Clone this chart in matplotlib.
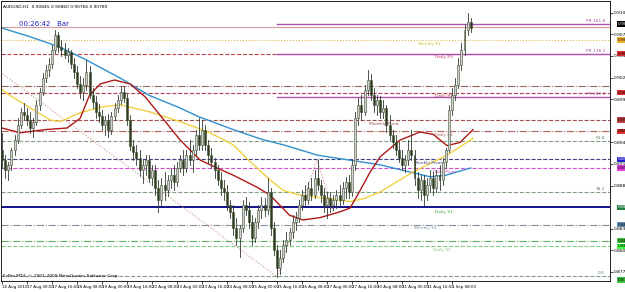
import matplotlib
matplotlib.use("Agg")
from matplotlib import pyplot as plt
from matplotlib.patches import Rectangle

# AUDUSD H1 (drawn as 2-hour candles)
opens = [0.8931, 0.8919, 0.8907, 0.8913, 0.8931, 0.8944, 0.8963, 0.8979, 0.8975, 0.8969,
         0.8959, 0.8967, 0.8988, 0.9004, 0.9021, 0.9031, 0.9039, 0.9057, 0.9075, 0.9060,
         0.9057, 0.9050, 0.9054, 0.9039, 0.9029, 0.9014, 0.9004, 0.9013, 0.9029, 0.9000,
         0.8991, 0.8979, 0.8974, 0.8963, 0.8969, 0.8957, 0.8974, 0.8984, 0.8994, 0.9004,
         0.8997, 0.8969, 0.8937, 0.8929, 0.8921, 0.8907, 0.8913, 0.8919, 0.8897, 0.8907,
         0.8884, 0.8869, 0.8888, 0.8881, 0.8894, 0.8900, 0.8891, 0.8909, 0.8919, 0.8909,
         0.8925, 0.8919, 0.8931, 0.8950, 0.8938, 0.8957, 0.8938, 0.8925, 0.8917, 0.8907,
         0.8894, 0.8884, 0.8879, 0.8863, 0.8854, 0.8834, 0.8821, 0.8834, 0.8863, 0.8857,
         0.8841, 0.8821, 0.8841, 0.8857, 0.8863, 0.8857, 0.8879, 0.8834, 0.8807, 0.8784,
         0.8797, 0.8813, 0.8819, 0.8829, 0.8841, 0.8847, 0.8863, 0.8875, 0.8869, 0.8884,
         0.8875, 0.8897, 0.8888, 0.8875, 0.8863, 0.8871, 0.8863, 0.8869, 0.8875, 0.8869,
         0.8884, 0.8891, 0.8879, 0.8913, 0.8971, 0.8988, 0.8979, 0.9007, 0.9019, 0.9000,
         0.8988, 0.8994, 0.8979, 0.8984, 0.8963, 0.8950, 0.8941, 0.8931, 0.8921, 0.8913,
         0.8919, 0.8931, 0.8925, 0.8897, 0.8881, 0.8894, 0.8875, 0.8888, 0.8897, 0.8884,
         0.8900, 0.8894, 0.8917, 0.8931, 0.8981, 0.9000, 0.9013, 0.9038, 0.9057, 0.9081,
         0.9091]
highs = [0.8953, 0.8925, 0.8917, 0.8934, 0.8950, 0.8971, 0.8984, 0.8990, 0.8984, 0.8979,
         0.8971, 0.8994, 0.9009, 0.9028, 0.9038, 0.9047, 0.9063, 0.9081, 0.9079, 0.9069,
         0.9065, 0.9059, 0.9057, 0.9047, 0.9037, 0.9024, 0.9021, 0.9044, 0.9037, 0.9009,
         0.8999, 0.8989, 0.8981, 0.8974, 0.8977, 0.8979, 0.8990, 0.9000, 0.9010, 0.9011,
         0.9001, 0.8975, 0.8944, 0.8938, 0.8931, 0.8919, 0.8925, 0.8925, 0.8913, 0.8913,
         0.8894, 0.8897, 0.8904, 0.8900, 0.8909, 0.8913, 0.8917, 0.8925, 0.8931, 0.8931,
         0.8944, 0.8938, 0.8957, 0.8971, 0.8969, 0.8963, 0.8944, 0.8934, 0.8921, 0.8913,
         0.8904, 0.8894, 0.8888, 0.8869, 0.8863, 0.8847, 0.8838, 0.8869, 0.8873, 0.8867,
         0.8850, 0.8847, 0.8863, 0.8873, 0.8871, 0.8897, 0.8884, 0.8841, 0.8813, 0.8807,
         0.8819, 0.8829, 0.8834, 0.8850, 0.8854, 0.8869, 0.8881, 0.8888, 0.8891, 0.8897,
         0.8907, 0.8919, 0.8894, 0.8884, 0.8879, 0.8879, 0.8875, 0.8881, 0.8888, 0.8891,
         0.8898, 0.8900, 0.8919, 0.8979, 0.8997, 0.9000, 0.9013, 0.9031, 0.9027, 0.9009,
         0.9000, 0.8999, 0.8994, 0.8988, 0.8975, 0.8957, 0.8950, 0.8941, 0.8931, 0.8925,
         0.8944, 0.8957, 0.8931, 0.8904, 0.8900, 0.8900, 0.8897, 0.8907, 0.8904, 0.8907,
         0.8913, 0.8921, 0.8934, 0.8988, 0.9009, 0.9021, 0.9047, 0.9065, 0.9088, 0.9103,
         0.9097]
lows = [0.8909, 0.8897, 0.8894, 0.8907, 0.8925, 0.8940, 0.8959, 0.8969, 0.8963, 0.8953,
        0.8948, 0.8963, 0.8981, 0.9000, 0.9017, 0.9024, 0.9034, 0.9053, 0.9054, 0.9049,
        0.9047, 0.9041, 0.9034, 0.9021, 0.9009, 0.8997, 0.8994, 0.9007, 0.8997, 0.8984,
        0.8971, 0.8967, 0.8957, 0.8950, 0.8948, 0.8951, 0.8969, 0.8979, 0.8989, 0.8991,
        0.8963, 0.8931, 0.8919, 0.8913, 0.8899, 0.8890, 0.8900, 0.8891, 0.8888, 0.8875,
        0.8854, 0.8863, 0.8869, 0.8874, 0.8884, 0.8881, 0.8887, 0.8904, 0.8900, 0.8904,
        0.8913, 0.8904, 0.8925, 0.8931, 0.8931, 0.8931, 0.8915, 0.8909, 0.8897, 0.8888,
        0.8875, 0.8869, 0.8857, 0.8847, 0.8825, 0.8813, 0.8798, 0.8829, 0.8850, 0.8834,
        0.8813, 0.8817, 0.8834, 0.8847, 0.8849, 0.8851, 0.8825, 0.8800, 0.8773, 0.8777,
        0.8791, 0.8804, 0.8813, 0.8821, 0.8831, 0.8841, 0.8857, 0.8863, 0.8864, 0.8869,
        0.8871, 0.8881, 0.8867, 0.8854, 0.8847, 0.8854, 0.8857, 0.8859, 0.8863, 0.8864,
        0.8871, 0.8871, 0.8874, 0.8907, 0.8963, 0.8969, 0.8975, 0.9000, 0.8994, 0.8979,
        0.8975, 0.8971, 0.8971, 0.8954, 0.8944, 0.8934, 0.8925, 0.8917, 0.8907, 0.8904,
        0.8913, 0.8919, 0.8888, 0.8871, 0.8869, 0.8863, 0.8869, 0.8879, 0.8875, 0.8879,
        0.8881, 0.8888, 0.8909, 0.8929, 0.8975, 0.8994, 0.9009, 0.9031, 0.9050, 0.9075,
        0.9079]
closes = [0.8919, 0.8907, 0.8913, 0.8931, 0.8944, 0.8963, 0.8979, 0.8975, 0.8969, 0.8959,
          0.8967, 0.8988, 0.9004, 0.9021, 0.9031, 0.9039, 0.9057, 0.9075, 0.9060, 0.9057,
          0.9050, 0.9054, 0.9039, 0.9029, 0.9014, 0.9004, 0.9013, 0.9029, 0.9000, 0.8991,
          0.8979, 0.8974, 0.8963, 0.8969, 0.8957, 0.8974, 0.8984, 0.8994, 0.9004, 0.8997,
          0.8969, 0.8937, 0.8929, 0.8921, 0.8907, 0.8913, 0.8919, 0.8897, 0.8907, 0.8884,
          0.8869, 0.8888, 0.8881, 0.8894, 0.8900, 0.8891, 0.8909, 0.8919, 0.8909, 0.8925,
          0.8919, 0.8931, 0.8950, 0.8938, 0.8957, 0.8938, 0.8925, 0.8917, 0.8907, 0.8894,
          0.8884, 0.8879, 0.8863, 0.8854, 0.8834, 0.8821, 0.8834, 0.8863, 0.8857, 0.8841,
          0.8821, 0.8841, 0.8857, 0.8863, 0.8857, 0.8879, 0.8834, 0.8807, 0.8784, 0.8797,
          0.8813, 0.8819, 0.8829, 0.8841, 0.8847, 0.8863, 0.8875, 0.8869, 0.8884, 0.8875,
          0.8897, 0.8888, 0.8875, 0.8863, 0.8871, 0.8863, 0.8869, 0.8875, 0.8869, 0.8884,
          0.8891, 0.8879, 0.8913, 0.8971, 0.8988, 0.8979, 0.9007, 0.9019, 0.9000, 0.8988,
          0.8994, 0.8979, 0.8984, 0.8963, 0.8950, 0.8941, 0.8931, 0.8921, 0.8913, 0.8919,
          0.8931, 0.8925, 0.8897, 0.8881, 0.8894, 0.8875, 0.8888, 0.8897, 0.8884, 0.8900,
          0.8894, 0.8917, 0.8931, 0.8981, 0.9000, 0.9013, 0.9038, 0.9057, 0.9081, 0.9091,
          0.9084]

# moving averages: (bar index, price) points
ma_blue_x = [0, 9, 18.6, 27, 38, 47, 57, 63, 74, 83, 90, 101, 111, 121, 131.5, 137, 142, 150]
ma_blue_y = [0.9084, 0.9073, 0.9060, 0.9044, 0.9021, 0.9000, 0.8984, 0.8973, 0.8957, 0.8945,
             0.8938, 0.8925, 0.8919, 0.8913, 0.8903, 0.8898, 0.8900, 0.8909]
ma_yellow_x = [0, 2.5, 7.4, 15.4, 18.6, 25, 31.4, 37.8, 47.4, 57, 66.6, 74, 79.4, 85.8, 90,
               95.4, 104, 111.4, 116, 121, 131.5, 142.4, 150.7]
ma_yellow_y = [0.9007, 0.9000, 0.8988, 0.8969, 0.8967, 0.8978, 0.8985, 0.8988, 0.8979, 0.8967,
               0.8953, 0.8938, 0.8917, 0.8894, 0.8881, 0.8875, 0.8871, 0.8867, 0.8871, 0.8879,
               0.8904, 0.8925, 0.8946]
ma_red_x = [0, 5.8, 13.8, 20.8, 25, 28, 31.4, 36, 41, 45.8, 50.6, 57, 63.4, 68.8, 74, 81.6,
            85.8, 92, 96.3, 101.8, 108, 111.4, 114.6, 117.8, 121, 127.4, 133.8, 138, 142.4,
            146.6, 150.7]
ma_red_y = [0.8959, 0.8953, 0.8957, 0.8959, 0.8971, 0.9000, 0.9014, 0.9019, 0.9014, 0.8998,
            0.8975, 0.8944, 0.8919, 0.8909, 0.8900, 0.8885, 0.8875, 0.8850, 0.8844, 0.8847,
            0.8854, 0.8859, 0.8881, 0.8904, 0.8923, 0.8944, 0.8954, 0.8951, 0.8937, 0.8941,
            0.8957]

# trend / zigzag dotted lines
trend_x = [-0.6, 88]
trend_y = [0.9029, 0.8773]
zig_x = [88, 100.8, 106.2]
zig_y = [0.8773, 0.8919, 0.8852]

# pivot levels: (price, colour, style, label, label bar)
pivots = [
    (0.9085, '#d89aa0', '-', '', 0),
    (0.9069, '#d8b840', ':', 'Weekly R1', 133),
    (0.9052, '#c04050', '--', 'Daily R3', 138.5),
    (0.9011, '#a06060', '-.', '', 0),
    (0.9003, '#b04050', '--', 'Daily R2', 138.5),
    (0.8969, '#a05050', '--', 'Monthly Pivot', 117.5),
    (0.8955, '#b06060', '-.', 'Daily R1', 138.5),
    (0.8943, '#80a080', '--', '', 0),
    (0.8920, '#404080', '--', 'Weekly Pivot', 132),
    (0.8909, '#d050d0', '--', 'Daily Pivot', 138),
    (0.8879, '#80a080', '--', '', 0),
    (0.8838, '#8090a0', '-.', 'Weekly S1', 132),
    (0.8818, '#60b060', '-.', '', 0),
    (0.8811, '#80d080', '--', 'Daily S2', 138),
    (0.8774, '#80a080', '--', '', 0),
]
fib_levels = [0.8943, 0.8879, 0.8774]
fib_labels = ['61.8', '38.2', '0.0']
pr_levels = [0.9089, 0.9052, 0.8998]
pr_labels = ['PR 161.8', 'PR 138.2', 'PR 100.0']
navy_level = 0.8860

# right axis price boxes
box_prices = [0.9089, 0.9069, 0.9052, 0.9003, 0.8969, 0.8955, 0.8920, 0.8909, 0.8860, 0.8838,
              0.8818, 0.8811, 0.8769]
box_colors = ['#000000', '#f0b030', '#e03030', '#e03030', '#c04040', '#e03030', '#2020d0',
              '#e040e0', '#208040', '#6090c0', '#40c040', '#40ff40', '#40c040']

price_ticks = [0.87790, 0.88060, 0.88330, 0.88870, 0.89140, 0.89410,
               0.89950, 0.90220, 0.90490, 0.90760, 0.91030]
date_labels = ['16 Aug 2010', '17 Aug 00:00', '17 Aug 16:00', '18 Aug 08:00', '19 Aug 00:00',
               '19 Aug 16:00', '20 Aug 08:00', '23 Aug 00:00', '23 Aug 16:00', '24 Aug 08:00',
               '25 Aug 00:00', '25 Aug 16:00', '26 Aug 08:00', '27 Aug 00:00', '27 Aug 16:00',
               '30 Aug 08:00', '31 Aug 00:00', '31 Aug 16:00', '1 Sep 08:00']

fig = plt.figure(figsize=(6.25, 2.92), dpi=100)
ax = fig.add_axes([1 / 625, 11 / 292, 609 / 625, 280 / 292])
ax.set_xlim(-0.32, 194.56)
ax.set_ylim(0.876775, 0.911775)

# horizontal levels
for price, col, ls, lab, lx in pivots:
    ax.axhline(price, color=col, linestyle=ls, linewidth=0.8, zorder=1)
    if lab:
        ax.text(lx, price - 0.0002, lab, color=col, fontsize=3.2, va='top', ha='left')
ax.axhline(navy_level, color='#000080', linewidth=1.3, zorder=1)
ax.text(138.5, navy_level - 0.0003, 'Daily S1', color='#40a040', fontsize=3.2, va='top')
for p, lab in zip(pr_levels, pr_labels):
    ax.plot([88, 194.56], [p, p], color='#b050b0', linewidth=1.0, zorder=1)
    ax.text(193, p + 0.0001, lab, color='#b050b0', fontsize=3.2, ha='right', va='bottom')
for p, lab in zip(fib_levels, fib_labels):
    ax.text(193, p + 0.0001, lab, color='#608060', fontsize=3.2, ha='right', va='bottom')

ax.plot(trend_x, trend_y, color='#d09090', linestyle=':', linewidth=0.8, zorder=2)
ax.plot(zig_x, zig_y, color='#d09090', linestyle=':', linewidth=0.8, zorder=2)

ax.plot(ma_blue_x, ma_blue_y, color='#3090d0', linewidth=1.0, zorder=2)
ax.plot(ma_yellow_x, ma_yellow_y, color='#f0d040', linewidth=1.0, zorder=2)
ax.plot(ma_red_x, ma_red_y, color='#b01818', linewidth=1.0, zorder=2)

# candles
for i in range(len(closes)):
    o, h, l, c = opens[i], highs[i], lows[i], closes[i]
    ax.plot([i, i], [l, h], color='#303830', linewidth=0.6, zorder=3)
    up = c >= o
    face = '#d0d0d0' if up else '#2c3a20'
    ax.add_patch(Rectangle((i - 0.32, min(o, c)), 0.64, max(abs(c - o), 0.00005),
                           facecolor=face, edgecolor='#405030', linewidth=0.4, zorder=4))

# right price axis
ax.yaxis.tick_right()
ax.set_yticks(price_ticks)
ax.set_yticklabels(['%.5f' % t for t in price_ticks], fontsize=3.2)
ax.tick_params(axis='y', length=2, width=0.5, pad=1)
for p, col in zip(box_prices, box_colors):
    ax.text(1.012, (p - 0.876775) / 0.035, '%.5f' % p, transform=ax.transAxes, fontsize=3.2,
            color='white' if col in ('#000000', '#2020d0', '#208040') else 'black',
            va='center', ha='left', clip_on=False,
            bbox=dict(boxstyle='square,pad=0.15', facecolor=col, edgecolor='none'))

# time axis
ax.set_xticks([i * 8 for i in range(len(date_labels))])
ax.set_xticklabels(date_labels, fontsize=2.9, ha='left')
ax.tick_params(axis='x', length=2, width=0.5, pad=1)

for s in ax.spines.values():
    s.set_linewidth(0.6)

ax.text(0.004, 0.985, 'AUDUSD,H1  0.90845 0.90860 0.90766 0.90789', transform=ax.transAxes,
        fontsize=3.2, va='top')
ax.text(0.03, 0.93, '00:26:42   Bar', transform=ax.transAxes, fontsize=5, color='#2020c0',
        va='top')
ax.text(0.004, 0.012, 'FxPro MT4, \u00a9 2001-2009 MetaQuotes Software Corp.',
        transform=ax.transAxes, fontsize=3.2, va='bottom')

fig.savefig('out.png', dpi=100)
